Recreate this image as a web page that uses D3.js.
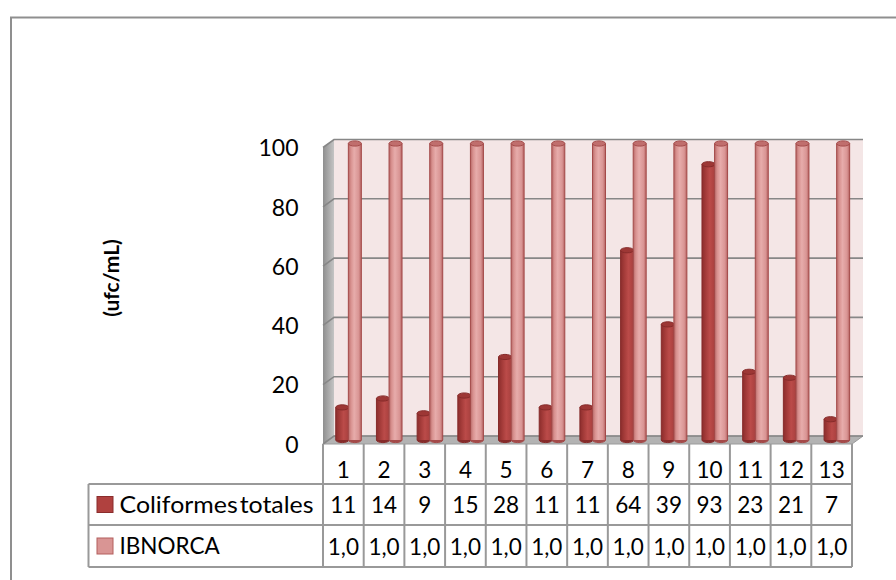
<!DOCTYPE html>
<html>
<head>
<meta charset="utf-8">
<script src="https://cdn.jsdelivr.net/npm/d3@7"></script>
<style>
  html, body { margin: 0; padding: 0; background: #fff; }
  svg { display: block; font-family: Lato, "Open Sans", sans-serif; }
</style>
</head>
<body>
<svg id="chart" width="896" height="580"></svg>
<script>
// Muestras y resultados
const categories = ["1","2","3","4","5","6","7","8","9","10","11","12","13"];
const coliformes = [11, 14, 9, 15, 28, 11, 11, 64, 39, 93, 23, 21, 7];
const ibnorca    = [100,100,100,100,100,100,100,100,100,100,100,100,100];
const seriesNames = ["Coliformes totales", "IBNORCA"];
const yTicks = [0, 20, 40, 60, 80, 100];
const yTitle = "(ufc/mL)";

const svg = d3.select("#chart");
const defs = svg.append("defs");

// frame
svg.append("rect").attr("x", 11).attr("y", 17.5).attr("width", 900).attr("height", 600)
  .attr("fill", "none").attr("stroke", "#8f8f8f").attr("stroke-width", 2);

// 3D geometry: front plane, back plane offset (dx, dy)
const DX = 11, DY = -8;
const x = d3.scaleBand().domain(categories).range([323, 852]);
const y = d3.scaleLinear().domain([0, 100]).range([444, 147.5]);

// gradients
function hGrad(id, stops) {
  const g = defs.append("linearGradient").attr("id", id)
    .attr("x1", "0%").attr("x2", "100%").attr("y1", "0%").attr("y2", "0%");
  stops.forEach(([o, c]) => g.append("stop").attr("offset", o).attr("stop-color", c));
}
hGrad("wallSide", [["0%", "#8f8f8f"], ["100%", "#c4c4c4"]]);
hGrad("gColi", [["0%", "#8c2d2c"], ["30%", "#a53c3a"], ["60%", "#bb4b49"], ["100%", "#a8403e"]]);
hGrad("gIbn", [["0%", "#b76867"], ["20%", "#d8918f"], ["45%", "#e7acab"], ["80%", "#d99594"], ["100%", "#b56261"]]);

const x0 = x.range()[0], x1 = x.range()[1];
const yb0 = y(0), ybT = y(100);

// back wall
svg.append("rect")
  .attr("x", x0 + DX).attr("y", ybT + DY)
  .attr("width", x1 - x0).attr("height", yb0 - ybT)
  .attr("fill", "#f4e6e6");

// side wall
svg.append("path")
  .attr("d", `M${x0},${ybT} L${x0 + DX},${ybT + DY} L${x0 + DX},${yb0 + DY} L${x0},${yb0} Z`)
  .attr("fill", "url(#wallSide)");

// floor
svg.append("path")
  .attr("d", `M${x0},${yb0} L${x0 + DX},${yb0 + DY} L${x1 + DX},${yb0 + DY} L${x1},${yb0} Z`)
  .attr("fill", "#b3b3b3").attr("stroke", "#9a9a9a").attr("stroke-width", 1);

// gridlines on back and side walls
yTicks.forEach(t => {
  const yy = y(t);
  svg.append("path")
    .attr("d", `M${x0},${yy} L${x0 + DX},${yy + DY} L${x1 + DX},${yy + DY}`)
    .attr("fill", "none").attr("stroke", "#878787").attr("stroke-width", 1.6);
});

// cylinders, placed at mid depth
const MX = DX / 2, MY = DY / 2;
const bw = 13, ry = 2.6;
function cylinder(cx, v, grad, stroke, topFill) {
  const top = y(v) + MY, bot = y(0) + MY;
  const g = svg.append("g");
  g.append("ellipse").attr("cx", cx).attr("cy", bot).attr("rx", bw / 2).attr("ry", ry)
    .attr("fill", stroke);
  g.append("rect").attr("x", cx - bw / 2).attr("y", top).attr("width", bw).attr("height", bot - top)
    .attr("fill", `url(#${grad})`);
  g.append("path")
    .attr("d", `M${cx - bw / 2},${top} L${cx - bw / 2},${bot} A${bw / 2},${ry} 0 0 0 ${cx + bw / 2},${bot} L${cx + bw / 2},${top}`)
    .attr("fill", "none").attr("stroke", stroke).attr("stroke-width", 1);
  g.append("ellipse").attr("cx", cx).attr("cy", top).attr("rx", bw / 2).attr("ry", ry)
    .attr("fill", topFill).attr("stroke", stroke).attr("stroke-width", 1);
}
categories.forEach((c, i) => {
  const mid = x(c) + x.bandwidth() / 2 + MX;
  cylinder(mid - 6.6, coliformes[i], "gColi", "#862b2a", "#9d3735");
  cylinder(mid + 6, ibnorca[i], "gIbn", "#a44a49", "#c06e6d");
});

// y axis labels
const yAxis = d3.axisLeft(y).tickValues(yTicks).tickSize(0).tickPadding(0).tickFormat(d3.format("d"));
const ga = svg.append("g").attr("transform", "translate(298.5,0)").call(yAxis);
ga.select(".domain").remove();
ga.selectAll("text").attr("font-size", 23).attr("fill", "#000").attr("font-family", "Lato, sans-serif")
  .attr("dy", "0.36em");

// axis title
svg.append("text")
  .attr("transform", "translate(119,278) rotate(-90)")
  .attr("text-anchor", "middle")
  .attr("font-size", 21).attr("font-weight", "bold").attr("fill", "#000")
  .text(yTitle);

// data table
const lineC = "#999999", lw = 2;
const legL = 88.5;
const rTop = [444, 484, 525], rBot = 567;
const tbl = svg.append("g");
// horizontal rules
tbl.append("line").attr("x1", legL).attr("x2", x1).attr("y1", rTop[1]).attr("y2", rTop[1]);
tbl.append("line").attr("x1", legL).attr("x2", x1).attr("y1", rTop[2]).attr("y2", rTop[2]);
tbl.append("line").attr("x1", legL).attr("x2", x1).attr("y1", rBot).attr("y2", rBot);
// verticals
tbl.append("line").attr("x1", legL).attr("x2", legL).attr("y1", rTop[1]).attr("y2", rBot);
categories.forEach(c => {
  tbl.append("line").attr("x1", x(c)).attr("x2", x(c)).attr("y1", rTop[0]).attr("y2", rBot);
});
tbl.append("line").attr("x1", x1).attr("x2", x1).attr("y1", rTop[0]).attr("y2", rBot);
tbl.selectAll("line").attr("stroke", lineC).attr("stroke-width", lw);

const fmtIbn = v => d3.format(".1e")(v).split("e")[0].replace(".", ",");
const cellText = (cx, cy, t) => svg.append("text").attr("x", cx).attr("y", cy)
  .attr("text-anchor", "middle").attr("dy", "0.36em")
  .attr("font-size", 22.5).attr("fill", "#000").text(t);

categories.forEach((c, i) => {
  const cx = x(c) + x.bandwidth() / 2;
  cellText(cx, 469.5, c);
  cellText(cx, 505, coliformes[i]);
  cellText(cx, 546.5, fmtIbn(ibnorca[i]));
});

// legend keys
const keys = [
  { name: seriesNames[0], fill: "#b0413f", stroke: "#8a2d2c", cy: 504.5, len: 194 },
  { name: seriesNames[1], fill: "#d99594", stroke: "#b35e5d", cy: 546, len: null }
];
keys.forEach(k => {
  svg.append("rect").attr("x", 97).attr("y", k.cy - 8).attr("width", 16).attr("height", 16)
    .attr("fill", k.fill).attr("stroke", k.stroke).attr("stroke-width", 1);
  const t = svg.append("text").attr("x", 119.5).attr("y", k.cy).attr("dy", "0.36em")
    .attr("font-size", 22.5).attr("fill", "#000").attr("word-spacing", "-4px").text(k.name);
  if (k.len) t.attr("textLength", k.len).attr("lengthAdjust", "spacingAndGlyphs");
});
</script>
</body>
</html>
